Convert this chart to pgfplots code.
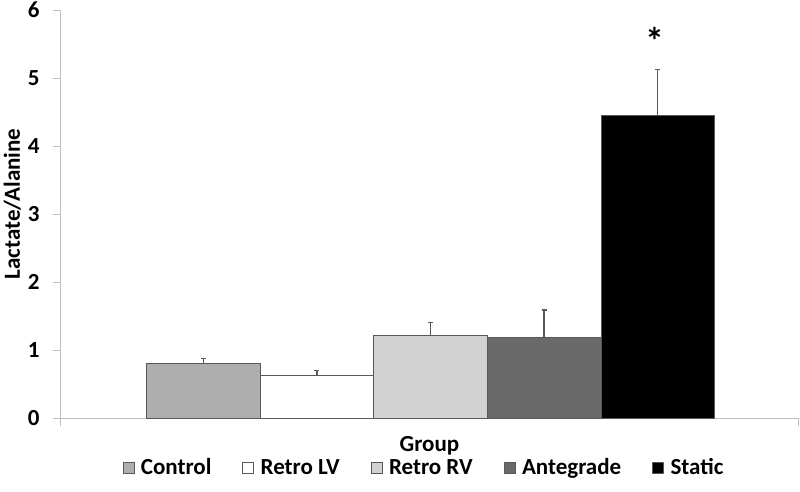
\documentclass[border=0pt]{standalone}
\usepackage{pgfplots}
\pgfplotsset{compat=1.18}
\usepackage{fontspec}
\setmainfont{Carlito}
\definecolor{axgray}{HTML}{BFBFBF}
\definecolor{edge}{HTML}{595959}
\definecolor{cControl}{HTML}{AEAEAE}
\definecolor{cRetroRV}{HTML}{D2D2D2}
\definecolor{cAnte}{HTML}{6A6A6A}
\begin{document}
\begin{tikzpicture}[x=1pt,y=1pt]
\path[use as bounding box] (0,0) rectangle (800,491);
\begin{axis}[
  at={(61pt,73pt)}, anchor=origin,
  scale only axis, width=737pt, height=408pt,
  xmin=61, xmax=798, ymin=0, ymax=6,
  axis x line*=bottom, axis y line*=left,
  axis line style={axgray, line width=1pt},
  every tick/.style={axgray, line width=1pt},
  tick align=outside, major tick length=8pt,
  xtick={61,798}, xticklabels={}, 
  ytick={0,1,2,3,4,5,6},
  /pgf/number format/assume math mode=true,
  ticklabel style={font=\fontsize{23}{26}\selectfont\bfseries},
  yticklabel style={xshift=-10pt},
  ylabel={Lactate/Alanine},
  ylabel style={font=\fontsize{23}{26}\selectfont\bfseries, at={(axis description cs:-0.066,0.525)}, anchor=center},
  xlabel={Group},
  xlabel style={font=\fontsize{23}{26}\selectfont\bfseries, at={(axis description cs:0.5,-0.068)}, anchor=center},
  ybar, bar shift=0pt, bar width=113.6,
  clip=false,
  legend columns=5,
  legend style={draw=none, at={(axis description cs:0.4925,-0.121)}, anchor=center,
    font=\fontsize{23}{26}\selectfont\bfseries,
    /tikz/every even column/.append style={column sep=29pt}},
  legend image code/.code={\draw[#1, draw=edge, line width=0.6pt] (0pt,-5.5pt) rectangle (11pt,5.5pt); \path[draw=none, fill=none] (0pt,0pt) -- (16pt,0pt);},
  error bars/y dir=plus, error bars/y explicit,
  error bars/error bar style={edge, line width=1.3pt},
  error bars/error mark options={edge, line width=1.3pt, rotate=90, mark size=2.5pt},
]
\addplot[fill=cControl, draw=edge, line width=0.8pt] coordinates {(203.3,0.80) +- (0,0.07)};
\addplot[fill=white, draw=edge, line width=0.8pt] coordinates {(316.9,0.63) +- (0,0.07)};
\addplot[fill=cRetroRV, draw=edge, line width=0.8pt] coordinates {(430.5,1.22) +- (0,0.18)};
\addplot[fill=cAnte, draw=edge, line width=0.8pt] coordinates {(544.1,1.18) +- (0,0.41)};
\addplot[fill=black, draw=edge, line width=0.8pt] coordinates {(657.7,4.45) +- (0,0.67)};
\legend{Control,Retro LV,Retro RV,Antegrade,Static}
\node[font=\fontsize{38}{40}\selectfont\bfseries] at (axis cs:655,5.55) {*};
\end{axis}
\end{tikzpicture}
\end{document}
